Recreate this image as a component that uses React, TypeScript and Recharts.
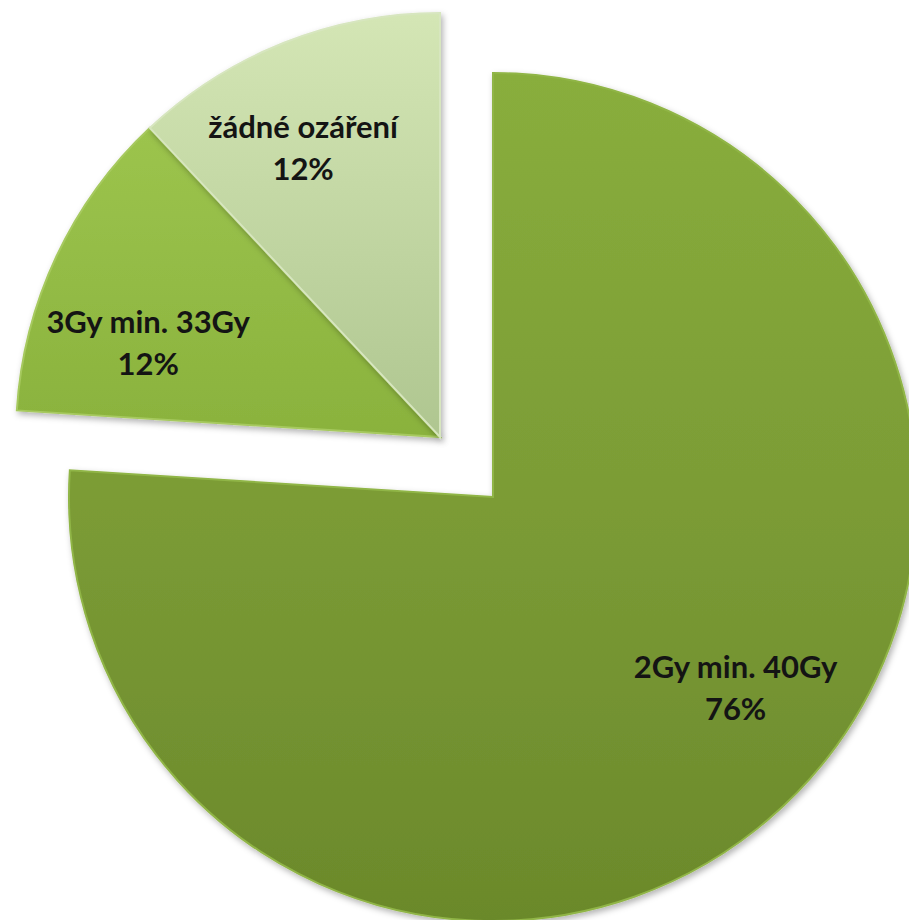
import React from 'react';
import { PieChart, Pie, Cell } from 'recharts';

const categories = ['2Gy min. 40Gy', '3Gy min. 33Gy', 'žádné ozáření'];
const shares = [76, 12, 12];

const data = categories.map((name, i) => ({ name, value: shares[i] }));

// slices pulled out of the pie (the two small ones sit apart from the big one)
const EXPLODED = [false, true, true];

const FILLS = ['url(#gBig)', 'url(#gMid)', 'url(#gPale)'];
const EDGES = ['#90b546', '#a6c95e', '#d7e6bf'];

// label placement tweaks: angle shift (deg) and distance from the pie centre
const LABEL_TWEAK = [
  { da: 8.3, r: 310 },
  { da: 7.7, r: 306 },
  { da: 3.9, r: 318 },
];

const RAD = Math.PI / 180;

const makeLabel = (show: boolean[]) => (props: any) => {
  const { cx, cy, midAngle, index, name, percent } = props;
  if (!show[index]) return null;
  const t = LABEL_TWEAK[index];
  const a = (midAngle + t.da) * RAD;
  const x = cx + t.r * Math.cos(a);
  const y = cy - t.r * Math.sin(a);
  return (
    <text
      x={x}
      y={y}
      textAnchor="middle"
      fill="#141414"
      fontFamily="Lato, 'Open Sans', sans-serif"
      fontWeight="bold"
      fontSize={31}
    >
      <tspan x={x} dy={-12}>{name}</tspan>
      <tspan x={x} dy={42}>{`${Math.round(percent * 100)}%`}</tspan>
    </text>
  );
};

const App: React.FC = () => {
  const mainShow = EXPLODED.map((e) => !e);
  return (
    <div style={{ position: 'absolute', left: 0, top: 0, width: 909, height: 920, background: '#fff' }}>
      <PieChart width={909} height={920} margin={{ top: 0, right: 0, bottom: 0, left: 0 }}>
        <defs>
          <linearGradient id="gBig" x1="0" y1="0" x2="0" y2="1">
            <stop offset="0%" stopColor="#89ae3c" />
            <stop offset="55%" stopColor="#7a9a35" />
            <stop offset="100%" stopColor="#6b892b" />
          </linearGradient>
          <linearGradient id="gMid" x1="0" y1="0" x2="0" y2="1">
            <stop offset="0%" stopColor="#9cc44d" />
            <stop offset="100%" stopColor="#8ab23d" />
          </linearGradient>
          <linearGradient id="gPale" x1="0" y1="0" x2="0" y2="1">
            <stop offset="0%" stopColor="#d4e6b5" />
            <stop offset="100%" stopColor="#afc690" />
          </linearGradient>
          <filter id="shadow" x="-10%" y="-10%" width="120%" height="120%">
            <feDropShadow dx="2" dy="3" stdDeviation="3" floodColor="#000" floodOpacity="0.3" />
          </filter>
        </defs>
        <Pie
          data={data}
          dataKey="value"
          nameKey="name"
          cx={493}
          cy={497}
          outerRadius={424}
          startAngle={90}
          endAngle={-270}
          isAnimationActive={false}
          labelLine={false}
          label={makeLabel(mainShow)}
        >
          {data.map((d, i) => (
            <Cell
              key={`main-${d.name}`}
              fill={mainShow[i] ? FILLS[i] : 'transparent'}
              stroke={mainShow[i] ? EDGES[i] : 'none'}
              strokeWidth={2}
              filter={mainShow[i] ? 'url(#shadow)' : undefined}
            />
          ))}
        </Pie>
        <Pie
          data={data}
          dataKey="value"
          nameKey="name"
          cx={440}
          cy={437}
          outerRadius={424}
          startAngle={90}
          endAngle={-270}
          isAnimationActive={false}
          labelLine={false}
          label={makeLabel(EXPLODED)}
        >
          {data.map((d, i) => (
            <Cell
              key={`out-${d.name}`}
              fill={EXPLODED[i] ? FILLS[i] : 'transparent'}
              stroke={EXPLODED[i] ? EDGES[i] : 'none'}
              strokeWidth={2}
              filter={EXPLODED[i] ? 'url(#shadow)' : undefined}
            />
          ))}
        </Pie>
      </PieChart>
    </div>
  );
};

export default App;
